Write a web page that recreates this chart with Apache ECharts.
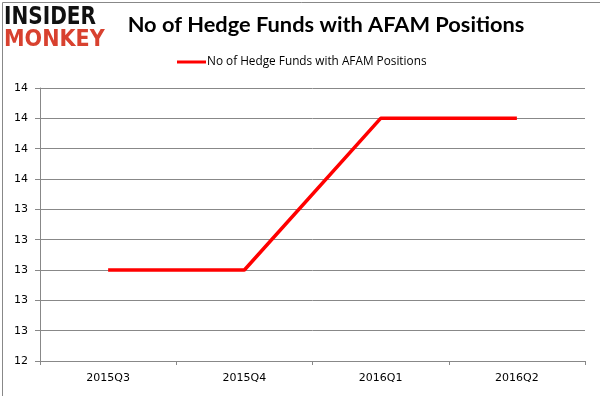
<!DOCTYPE html>
<html><head><meta charset="utf-8">
<script src="https://cdn.jsdelivr.net/npm/echarts@6/dist/echarts.min.js"></script>
<style>html,body{margin:0;padding:0;background:#fff}#c{width:600px;height:396px}</style>
</head><body><div id="c"></div>
<script>
const categories = ['2015Q3','2015Q4','2016Q1','2016Q2'];
const seriesName = 'No of Hedge Funds with AFAM Positions';
const values = [13, 13, 14, 14];
const yMin = 12.4, yMax = 14.2, yStep = 0.2;

const chart = echarts.init(document.getElementById('c'), null, {renderer:'canvas'});
chart.setOption({
  animation:false,
  backgroundColor:'#fff',
  title:{text:'No of Hedge Funds with AFAM Positions', left:321, top:9, textAlign:'center',
    textStyle:{fontFamily:'Lato', fontWeight:'bold', fontSize:21.8, color:'#000'}},
  legend:{data:[seriesName], top:51, left:172, itemWidth:29, itemHeight:3, itemGap:2,
    icon:'rect',
    textStyle:{fontFamily:'Open Sans', fontSize:11.8, color:'#000', padding:[0,0,0,-4]}},
  grid:{left:40, right:15, top:88, bottom:35, containLabel:false},
  xAxis:{type:'category', data:categories, boundaryGap:true,
    axisLine:{lineStyle:{color:'#888', width:1}},
    axisTick:{show:true, length:4, lineStyle:{color:'#888'}},
    axisLabel:{fontFamily:'DejaVu Sans', fontSize:11, color:'#000', margin:12}},
  yAxis:{type:'value', min:yMin, max:yMax, interval:yStep,
    axisLine:{show:true, lineStyle:{color:'#888'}},
    axisTick:{show:true, length:5, inside:false, lineStyle:{color:'#888'}},
    splitLine:{lineStyle:{color:'#888', width:1}},
    axisLabel:{fontFamily:'DejaVu Sans', fontSize:11, color:'#000', margin:12,
      formatter:v=>String(Math.round(v))}},
  graphic:[
    {type:'rect', left:0, top:0, shape:{width:599, height:395}, style:{fill:'none', stroke:'#888', lineWidth:1}, silent:true, z:-1},
    {type:'text', left:4, top:6, scaleX:0.93, style:{text:'INSIDER', font:'900 24px "DejaVu Sans Condensed", "DejaVu Sans"', fill:'#111'}},
    {type:'text', left:4, top:29, style:{text:'MONKEY', font:'900 23px "DejaVu Sans Condensed", "DejaVu Sans"', fill:'#d8412f'}}
  ],
  series:[{name:seriesName, type:'line', data:values, showSymbol:false, symbol:'none',
    lineStyle:{color:'#ff0000', width:3.5}, itemStyle:{color:'#ff0000'}}]
});
</script></body></html>
